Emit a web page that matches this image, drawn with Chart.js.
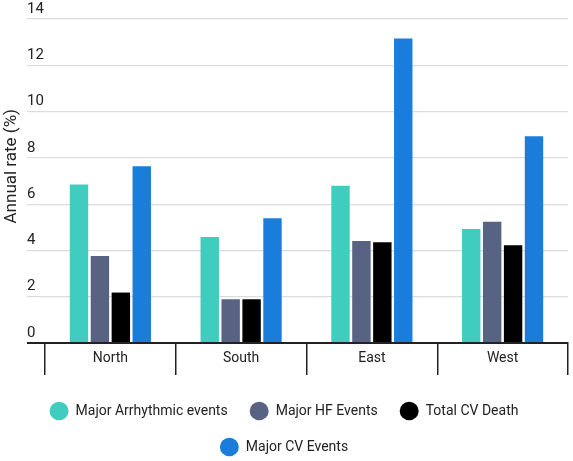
<!DOCTYPE html>
<html>
<head>
<meta charset="utf-8">
<script src="https://cdn.jsdelivr.net/npm/chart.js@4.4.0/dist/chart.umd.min.js"></script>
<style>
  html, body { margin: 0; padding: 0; background: #fff; }
  #wrap { width: 573px; height: 461px; }
</style>
</head>
<body>
<div id="wrap"><canvas id="chart"></canvas></div>
<script>
const regions = ['North', 'South', 'East', 'West'];
const arrhythmic = [6.85, 4.58, 6.8, 4.93];
const hfEvents = [3.76, 1.89, 4.41, 5.24];
const cvDeath = [2.18, 1.89, 4.35, 4.22];
const cvEvents = [7.64, 5.39, 13.16, 8.93];
const yTicks = [0, 2, 4, 6, 8, 10, 12, 14];

Chart.defaults.font.family = 'Roboto, "Noto Sans", sans-serif';
Chart.defaults.color = '#222';

const chart = new Chart(document.getElementById('chart'), {
  type: 'bar',
  data: {
    labels: regions,
    datasets: [
      { label: 'Major Arrhythmic events', data: arrhythmic, backgroundColor: '#41ccc0' },
      { label: 'Major HF Events', data: hfEvents, backgroundColor: '#586282' },
      { label: 'Total CV Death', data: cvDeath, backgroundColor: '#000000' },
      { label: 'Major CV Events', data: cvEvents, backgroundColor: '#1a7ddb' }
    ]
  },
  options: {
    responsive: true,
    maintainAspectRatio: false,
    animation: false,
    layout: { padding: { top: 19, right: 5, bottom: -3, left: 0 } },
    datasets: { bar: { categoryPercentage: 0.64, barPercentage: 0.88 } },
    plugins: {
      tooltip: { enabled: false },
      legend: {
        position: 'bottom',
        labels: {
          usePointStyle: true,
          pointStyle: 'circle',
          boxHeight: 13,
          pointStyleWidth: 19,
          padding: 22,
          font: { size: 14 },
          color: '#222'
        }
      }
    },
    scales: {
      x: {
        afterFit: s => { s.height = 39; },
        grid: {
          offset: true,
          drawOnChartArea: false,
          drawTicks: true,
          tickLength: 32,
          color: '#222',
          lineWidth: 1.5
        },
        border: { display: true, color: '#222', width: 2 },
        ticks: { padding: -25, font: { size: 14 }, color: '#222' }
      },
      y: {
        min: 0,
        max: 14,
        afterBuildTicks: s => { s.ticks = yTicks.map(v => ({ value: v })); },
        afterFit: s => { s.width = 45; },
        grid: {
          color: c => c.tick && c.tick.value === 0 ? '#222' : '#dcdcdc',
          lineWidth: c => c.tick && c.tick.value === 0 ? 2 : 1.2,
          tickLength: 18
        },
        border: { display: false },
        ticks: {
          mirror: true,
          padding: -18,
          labelOffset: -10,
          font: { size: 15 },
          color: '#222'
        },
        title: {
          display: true,
          // leading spaces nudge the title up like the original
          text: '       Annual rate (%)',
          font: { size: 17 },
          color: '#222',
          padding: { top: 2, bottom: 0 }
        }
      }
    }
  }
});
</script>
</body>
</html>
